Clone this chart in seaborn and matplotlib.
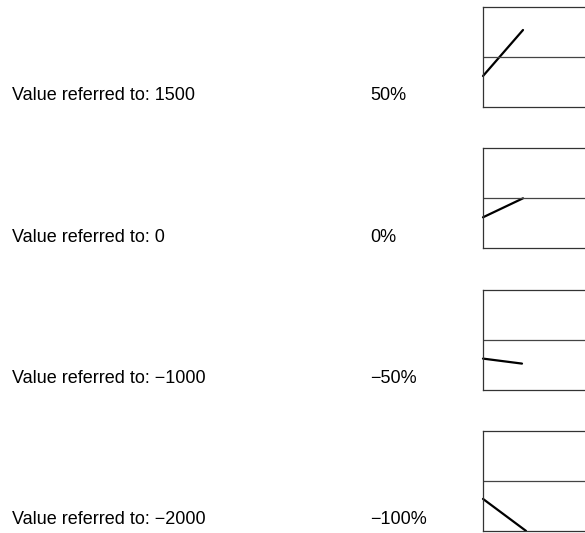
"""Reference value scaling: four small characteristic sketches with their labels."""
import pandas as pd
import matplotlib
matplotlib.use("Agg")
import matplotlib.pyplot as plt
import seaborn as sns

# values
ref_values = ["1500", "0", "\u22121000", "\u22122000"]
percent_labels = ["50%", "0%", "\u221250%", "\u2212100%"]
line_start_y = [-0.38, -0.38, -0.38, -0.36]
line_end_y = [0.54, 0.0, -0.48, -1.0]
line_end_x = [40, 40, 39, 43]

W, H = 585, 533
sns.set_theme(style="white")
plt.rcParams["font.family"] = ["Liberation Sans", "DejaVu Sans"]

fig = plt.figure(figsize=(W / 100, H / 100), dpi=100)

for i in range(len(ref_values)):
    box_bottom = 107 + 141.3 * i   # px from top
    box_h = 100
    ax = fig.add_axes([483 / W, 1 - box_bottom / H, 107 / W, box_h / H])
    df = pd.DataFrame({"x": [0, line_end_x[i]],
                       "y": [line_start_y[i], line_end_y[i]]})
    sns.lineplot(data=df, x="x", y="y", ax=ax, color="black", lw=1.6,
                 clip_on=False)
    ax.axhline(0, color="#444444", lw=0.9)
    ax.set_xlim(0, 107)
    ax.set_ylim(-1, 1)
    ax.set_xticks([])
    ax.set_yticks([])
    ax.set_xlabel("")
    ax.set_ylabel("")
    for s in ax.spines.values():
        s.set_color("#333333")
        s.set_linewidth(0.9)
        s.set_visible(True)

    baseline = 1 - (box_bottom - 6.5) / H
    fig.text(12 / W, baseline, f"Value referred to: {ref_values[i]}",
             fontsize=13, va="baseline", ha="left", color="black")
    fig.text(370 / W, baseline, percent_labels[i],
             fontsize=13, va="baseline", ha="left", color="black")

fig.savefig("out.png", dpi=100)
